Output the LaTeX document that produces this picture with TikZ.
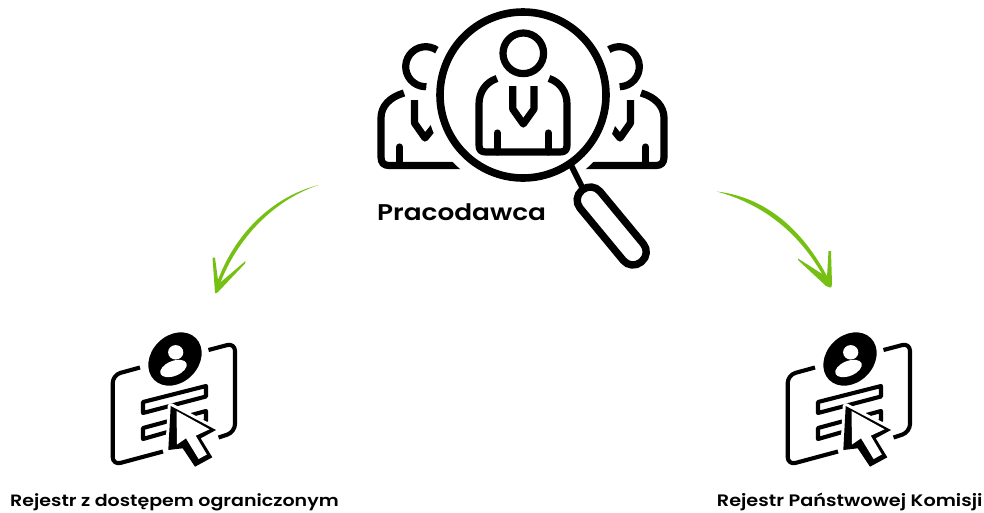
\documentclass[tikz,border=0pt]{standalone}
\usepackage{fontspec}
\setmainfont{Poppins}[BoldFont={* SemiBold},FakeStretch=1.16]
\definecolor{arrowgreen}{HTML}{76C014}
\tikzset{
	ink/.style={draw=black, line width=7.2pt, line join=round},
	thinink/.style={draw=black, line width=4.1pt, line join=round},
	arrowbrush/.style={fill=arrowgreen, line join=round},
	caption/.style={anchor=base west, inner sep=0pt, font=\bfseries\fontsize{16.4}{20}\selectfont},
}
\newcommand{\flankperson}{
	\draw[ink] (404,93) .. controls (390,97) and (381,106) .. (381,118) -- (381,157) .. controls (381,163) and (384,165.5) .. (389,165.5) -- (462,165.5);
	\draw[ink, line cap=round] (399.5,147) -- (399.5,165);
	\draw[ink] (414.5,100) -- (414.5,123) -- (425,138) -- (437,123);
	\draw[ink] (425.7,66.7) ++(-53:20) arc (-53:-277:20);
}
\newcommand{\registericon}{
	\draw[thinink, rounded corners=8pt] (140,367.5) -- (112.7,375) -- (112.7,465) -- (163,451.5);
	\draw[thinink, rounded corners=8pt] (208.5,350) -- (235,343) -- (235,432) -- (218.5,437.5);
	\fill[rotate around={-45:(175,359)}] (175,359) ellipse (29.5 and 23.5);
	\fill[white] (175.7,352.3) ellipse (7.6 and 7.2);
	\fill[white, rotate around={-22:(173.5,368.5)}] (173.5,368.5) ellipse (14 and 7.5);
	\draw[thinink] (143,402) -- (206,386) -- (206,396.5) -- (143,413) -- cycle;
	\draw[thinink] (143,428) -- (206,411) -- (206,421) -- (143,439) -- cycle;
	\draw[draw=white, fill=white, line width=6pt, line join=round] (170.7,406) -- (216,430) -- (200.7,438.3) -- (212.3,457.3) -- (195,466.7) -- (182.7,448.3) -- (168.3,450) -- cycle;
	\fill (170.7,406) -- (216,430) -- (200.7,438.3) -- (212.3,457.3) -- (195,466.7) -- (182.7,448.3) -- (168.3,450) -- cycle;
	\fill[white] (176.5,411) -- (209.5,429.3) -- (195.7,435.7) -- (206.8,454.5) -- (198.6,459) -- (186,438.3) -- (177,444.5) -- cycle;
}

\begin{document}
\begin{tikzpicture}[x=1pt, y=1pt, yscale=-1]

\useasboundingbox (0,0) rectangle (984,512);

% people behind the lens
\flankperson
\begin{scope}[shift={(1045,0)}, xscale=-1]
	\flankperson
\end{scope}
\fill[white] (523,95) circle (97);

% lens
\draw[line width=7.6pt] (523,95) circle (83);
\draw[line width=6pt] (571,165) -- (584,191);
\draw[line width=7.4pt, rotate around={50.4:(611.7,226)}, rounded corners=12.5pt] (565.2,213) rectangle (658.2,239);

% person in the lens
\draw[ink] (523.3,53.3) circle (20.3);
\draw[ink] (497,78.5) .. controls (486,82) and (479,92) .. (479,104) -- (479,145) .. controls (479,150) and (481,152) .. (486,152) -- (560,152) .. controls (565,152) and (567,150) .. (567,145) -- (567,104) .. controls (567,92) and (560,82) .. (549,78.5);
\draw[ink] (512.7,86) -- (512.7,109) -- (523.3,124) -- (534,109) -- (534,86);
\draw[ink, line cap=round] (497.3,133) -- (497.3,152);
\draw[ink, line cap=round] (548.3,133) -- (548.3,152);

\node[caption, font=\bfseries\fontsize{22.7}{27}\selectfont] (employer) at (377,220) {Pracodawca};

% left arrow
\coordinate (leftstart) at (318.5,185);
\coordinate (lefttip) at (215,293);
\fill[arrowbrush] (leftstart) .. controls (272,197) and (234,234) .. (216.5,284) -- (219.5,285) .. controls (237,238) and (274,200) .. (leftstart);
\fill[arrowbrush] (212.5,257.5) -- (215,257.5) -- (218.5,284) -- (245.5,261) -- (245,263.5) -- (219,291) .. controls (217,293.5) and (215,293.5) .. (lefttip) -- cycle;

% right arrow
\coordinate (rightstart) at (716.7,191.5);
\coordinate (righttip) at (830,287.5);
\fill[arrowbrush] (rightstart) .. controls (765,197) and (803,229) .. (829,280) -- (826.5,282) .. controls (801,233) and (763,204) .. (rightstart);
\fill[arrowbrush] (798,258.5) -- (827,277) -- (828.5,251) -- (831,251) -- (832,284) .. controls (832,287) and (831,288) .. (righttip) -- (826,286) -- (798,260) -- cycle;

% registers
\registericon
\begin{scope}[shift={(675,0)}]
	\registericon
\end{scope}

\node[caption] (restricted) at (10,506) {Rejestr z dostępem ograniczonym};
\node[caption, font=\bfseries\fontsize{16.6}{20}\selectfont] (commission) at (716.7,506) {Rejestr Państwowej Komisji};

\end{tikzpicture}
\end{document}
